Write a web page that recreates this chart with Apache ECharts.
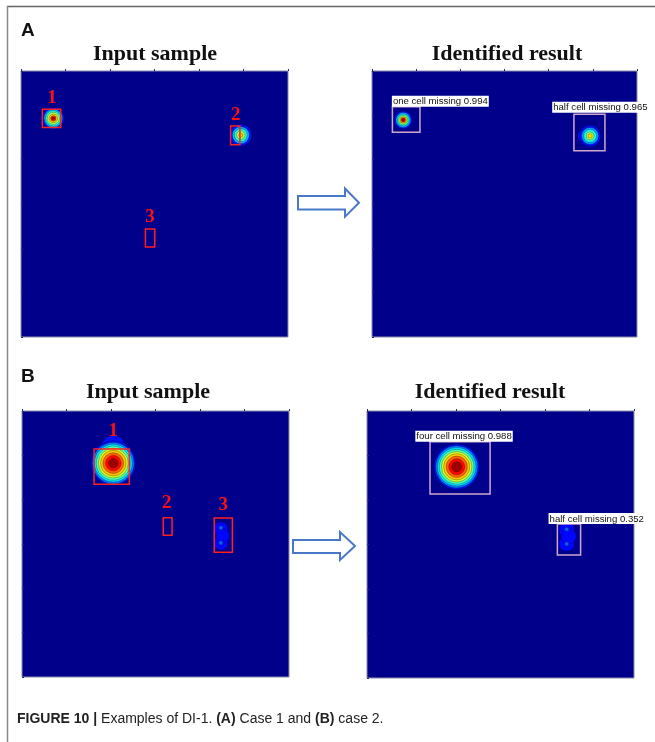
<!DOCTYPE html>
<html><head><meta charset="utf-8">
<script src="https://cdn.jsdelivr.net/npm/echarts@6/dist/echarts.min.js"></script>
<style>html,body{margin:0;padding:0;background:#fff}#c{width:655px;height:742px}</style>
</head><body><div id="c"></div>
<script>
// ---- data (panel coordinates 0-100, y measured from the top) ----
// blobs: [centerX, centerY, radius, level(0-1)]
const blobsAInput = [
  [12.1,17.8,4.1,0.14],[12.1,17.8,3.5,0.30],[12.1,17.8,2.9,0.42],[12.1,17.8,2.3,0.55],
  [12.1,17.8,1.6,0.68],[12.1,17.8,1.0,0.85],[12.1,17.8,0.5,0.95],
  [82.3,24.1,4.1,0.14],[82.3,24.1,3.2,0.30],[82.3,24.1,2.4,0.42],[82.3,24.1,1.6,0.55],[82.3,24.1,0.8,0.68]
];
const blobsAResult = [
  [11.8,18.4,3.4,0.14],[11.8,18.4,2.8,0.30],[11.8,18.4,2.2,0.42],[11.8,18.4,1.7,0.55],
  [11.8,18.4,1.2,0.70],[11.8,18.4,0.8,0.88],[11.8,18.4,0.4,0.97],
  [80.2,24.4,2.6,0.14],[82.3,24.4,4.0,0.14],[82.3,24.4,3.2,0.28],[82.3,24.4,2.4,0.40],
  [82.3,24.4,1.5,0.55],[82.3,24.4,0.8,0.66]
];
const blobsBInput = [
  [34.2,13.8,4.6,0.14],[34.2,19.6,8.4,0.14],[34.2,19.6,7.8,0.25],[34.2,19.6,7.1,0.35],
  [34.2,19.6,6.4,0.45],[34.2,19.6,5.6,0.58],[34.2,19.6,4.8,0.68],[34.2,19.6,3.9,0.78],
  [34.2,19.6,2.9,0.87],[34.2,19.6,1.8,0.97],
  [74.5,44.4,2.7,0.13],[74.5,49.6,2.7,0.13],[75.2,47.0,2.6,0.13],
  [74.5,43.9,0.8,0.22],[74.5,49.6,0.8,0.22]
];
const blobsBResult = [
  [33.6,20.9,8.5,0.14],[33.6,20.9,7.9,0.25],[33.6,20.9,7.2,0.35],[33.6,20.9,6.5,0.45],
  [33.6,20.9,5.7,0.58],[33.6,20.9,4.9,0.68],[33.6,20.9,4.0,0.78],[33.6,20.9,3.0,0.87],
  [33.6,20.9,1.9,0.97],
  [74.8,44.6,3.0,0.13],[74.8,49.6,3.0,0.13],[75.5,47.0,2.9,0.13],
  [74.8,44.3,0.8,0.22],[74.8,49.8,0.8,0.22]
];
// boxes: [x1, y1, x2, y2]
const boxesAInput  = [[8.0,14.4,14.9,21.2],[78.5,20.7,82.0,27.7],[46.6,59.4,50.1,66.2]];
const boxesAResult = [[7.7,13.4,18.1,23.0],[76.2,16.3,87.9,30.0]];
const boxesBInput  = [[27.0,14.3,40.2,27.5],[52.9,40.1,56.2,46.7],[72.0,40.2,78.8,53.1]];
const boxesBResult = [[23.6,11.5,46.1,31.1],[71.3,42.3,80.0,53.9]];
// region numbers: [x, y]
const numPosAInput = [[11.6,10.2],[80.4,16.5],[48.3,54.8]];
const numPosBInput = [[34.2,7.7],[54.2,34.8],[75.4,35.2]];
const numTexts = ['1','2','3'];
// result tags: [leftX, bottomY]
const tagPosAResult = [[7.5,13.4],[68.0,15.7]];
const tagTextAResult = ['one cell missing 0.994','half cell missing 0.965'];
const tagPosBResult = [[18.1,11.5],[68.0,42.3]];
const tagTextBResult = ['four cell missing 0.988','half cell missing 0.352'];
const jet = ['#00007F','#0000FF','#007FFF','#00FFFF','#7FFF7F','#FFFF00','#FF7F00','#FF0000','#7F0000'];

// ---- chart ----
const chart = echarts.init(document.getElementById('c'));
const grids = [
  {left:21, top:71, width:267, height:266},
  {left:372, top:71, width:265, height:266},
  {left:22, top:411, width:267, height:266},
  {left:367, top:411, width:267, height:267}
].map(g => Object.assign(g, {show:true, backgroundColor:'#00008B', borderColor:'#8a8aa8', borderWidth:1}));
function axis(i, inv){
  return {type:'value', gridIndex:i, min:0, max:100, interval:100/6, inverse:inv,
    axisLine:{show:false}, splitLine:{show:false}, axisLabel:{show:false},
    axisTick:{show:true, inside:true, length:2, lineStyle:{color:'#2a2a70'}}};
}
function blobSeries(i, data){
  return {type:'custom', xAxisIndex:i, yAxisIndex:i, clip:true, silent:true,
    data: data.slice().sort((a,b)=>a[3]-b[3]),
    renderItem:(p, api)=>{
      const c = api.coord([api.value(0), api.value(1)]);
      const s = api.size([api.value(2), api.value(2)]);
      return {type:'circle', shape:{cx:c[0], cy:c[1], r:(s[0]+s[1])/2},
        style:{fill:api.visual('color'), stroke:'rgba(0,0,0,0.45)', lineWidth:0.6}};
    }};
}
function boxSeries(i, data, color){
  return {type:'custom', xAxisIndex:i, yAxisIndex:i, silent:true, data:data,
    renderItem:(p, api)=>{
      const a = api.coord([api.value(0), api.value(1)]);
      const b = api.coord([api.value(2), api.value(3)]);
      return {type:'rect', shape:{x:a[0], y:a[1], width:b[0]-a[0], height:b[1]-a[1]},
        style:{fill:'none', stroke:color, lineWidth:1.5}};
    }};
}
function numSeries(i, data){
  return {type:'custom', xAxisIndex:i, yAxisIndex:i, silent:true, data:data,
    renderItem:(p, api)=>{
      const a = api.coord([api.value(0), api.value(1)]);
      return {type:'text', x:a[0], y:a[1], style:{text:numTexts[p.dataIndex], fill:'#ff1010',
        font:'bold 19px "Liberation Serif"', align:'center', verticalAlign:'middle'}};
    }};
}
function tagSeries(i, data, texts){
  return {type:'custom', xAxisIndex:i, yAxisIndex:i, silent:true, data:data, z:5,
    renderItem:(p, api)=>{
      const a = api.coord([api.value(0), api.value(1)]);
      return {type:'text', x:a[0], y:a[1], style:{text:texts[p.dataIndex], fill:'#111',
        font:'9.6px "Liberation Sans"', align:'left', verticalAlign:'bottom',
        backgroundColor:'#fff', padding:[1,1,0,1]}};
    }};
}
const titleFont = 'bold 22px "Liberation Serif"';
function txt(x, y, text, font, align, va){
  return {type:'text', x:x, y:y, style:{text:text, font:font, fill:'#111', align:align||'center', verticalAlign:va||'middle'}};
}
function arrow(pts){
  return {type:'polygon', shape:{points:pts}, style:{fill:'#fff', stroke:'#4a78c8', lineWidth:2}};
}
chart.setOption({
  animation:false,
  grid:grids,
  xAxis:[0,1,2,3].map(i=>axis(i,false)),
  yAxis:[0,1,2,3].map(i=>axis(i,true)),
  visualMap:{type:'continuous', show:false, min:0, max:1, dimension:3, seriesIndex:[0,3,6,9], inRange:{color:jet}},
  series:[
    blobSeries(0, blobsAInput), boxSeries(0, boxesAInput, '#ff2020'), numSeries(0, numPosAInput),
    blobSeries(1, blobsAResult), boxSeries(1, boxesAResult, '#d0a8cc'), tagSeries(1, tagPosAResult, tagTextAResult),
    blobSeries(2, blobsBInput), boxSeries(2, boxesBInput, '#ff2020'), numSeries(2, numPosBInput),
    blobSeries(3, blobsBResult), boxSeries(3, boxesBResult, '#d0a8cc'), tagSeries(3, tagPosBResult, tagTextBResult)
  ],
  graphic:[
    {type:'line', shape:{x1:7, y1:6.5, x2:655, y2:6.5}, style:{stroke:'#666', lineWidth:1.5}},
    {type:'line', shape:{x1:7.5, y1:6, x2:7.5, y2:742}, style:{stroke:'#888', lineWidth:1.5}},
    txt(21, 21, 'A', 'bold 19px "Liberation Sans"', 'left', 'top'),
    txt(21, 367, 'B', 'bold 19px "Liberation Sans"', 'left', 'top'),
    txt(155, 54, 'Input sample', titleFont),
    txt(507, 54, 'Identified result', titleFont),
    txt(148, 392, 'Input sample', titleFont),
    txt(490, 392, 'Identified result', titleFont),
    arrow([[298,196],[345,196],[345,188.5],[359,202.7],[345,216.7],[345,209.5],[298,209.5]]),
    arrow([[293,540],[340,540],[340,532],[355,546],[340,560],[340,553],[293,553]]),
    {type:'text', x:17, y:712, style:{
      text:'{b|FIGURE 10 |}{n| Examples of DI-1. }{b|(A)}{n| Case 1 and }{b|(B)}{n| case 2.}',
      verticalAlign:'top', fill:'#222',
      rich:{b:{font:'bold 14px "Liberation Sans"', fill:'#222'}, n:{font:'14px "Liberation Sans"', fill:'#222'}}}}
  ]
});
</script></body></html>
